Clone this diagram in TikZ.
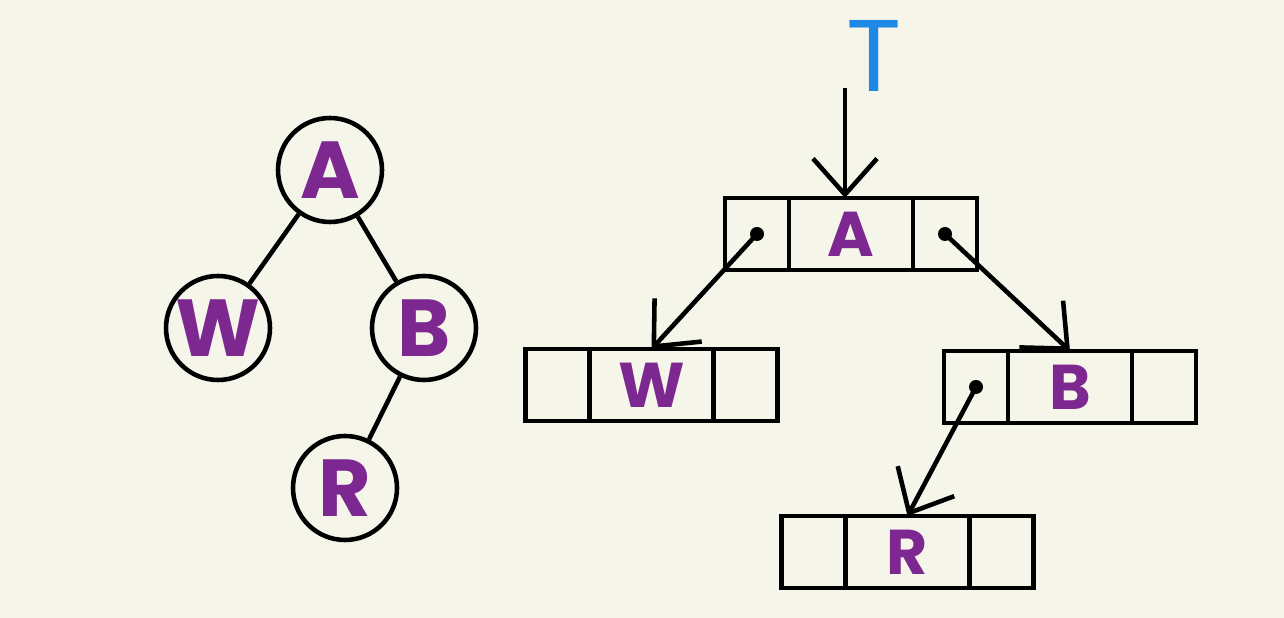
\documentclass[tikz,border=0pt]{standalone}
\usepackage{fontspec}
\setsansfont{Poppins}
\usepackage{xcolor}
\definecolor{bgcream}{RGB}{245,245,234}
\definecolor{lpurple}{RGB}{125,40,145}
\definecolor{tblue}{RGB}{30,136,229}
\usepackage{tikz}
\usetikzlibrary{arrows.meta, positioning}

\tikzset{
  tnode/.style={circle, draw, line width=1.3pt, minimum size=1.04cm, inner sep=0pt,
                text=lpurple, font=\sffamily\bfseries\fontsize{23}{23}\selectfont},
  cell/.style={rectangle, draw, line width=1.4pt, minimum height=0.72cm,
               minimum width=0.64cm, inner sep=0pt, outer sep=0pt},
  valcell/.style={cell, minimum width=1.24cm, text=lpurple,
                  font=\sffamily\bfseries\fontsize{18}{18}\selectfont},
  ptr/.style={-{Straight Barb[length=3.6mm, width=6.4mm]}, line width=1.3pt},
  edge/.style={line width=1.3pt}
}

\begin{document}
\begin{tikzpicture}

% === Background ===
\fill[bgcream] (0,0) rectangle (12.84,6.18);
\useasboundingbox (0,0) rectangle (12.84,6.18);

% === Tree (left) ===
\node[tnode] (ta) at (3.30,4.48) {A};
\node[tnode] (tw) at (2.18,2.90) {W};
\node[tnode] (tb) at (4.24,2.90) {B};
\node[tnode] (tr) at (3.45,1.30) {R};
\draw[edge] (ta) -- (tw);
\draw[edge] (ta) -- (tb);
\draw[edge] (tb) -- (tr);

% === Linked nodes (right) ===
\node[valcell] (av) at (8.51,3.84) {A};
\node[cell, left=0pt of av] (al) {};
\node[cell, right=0pt of av] (ar) {};

\node[valcell] (wv) at (6.515,2.33) {W};
\node[cell, left=0pt of wv] (wl) {};
\node[cell, right=0pt of wv] (wr) {};

\node[valcell] (bv) at (10.70,2.31) {B};
\node[cell, left=0pt of bv] (bl) {};
\node[cell, right=0pt of bv] (br) {};

\node[valcell] (rv) at (9.075,0.66) {R};
\node[cell, left=0pt of rv] (rl) {};
\node[cell, right=0pt of rv] (rr) {};

% Root pointer
\node[text=tblue, font=\sffamily\fontsize{29}{29}\selectfont] (tlab) at (8.74,5.62) {T};
\coordinate (tin) at (8.45,5.30);
\draw[ptr] (tin) -- (tin |- av.north);

% Child pointers
\foreach \from/\to in {al/wv, ar/bv, bl/rv} {
  \fill (\from.center) circle (0.07);
  \draw[ptr] (\from.center) -- (\to.north);
}

\end{tikzpicture}
\end{document}
